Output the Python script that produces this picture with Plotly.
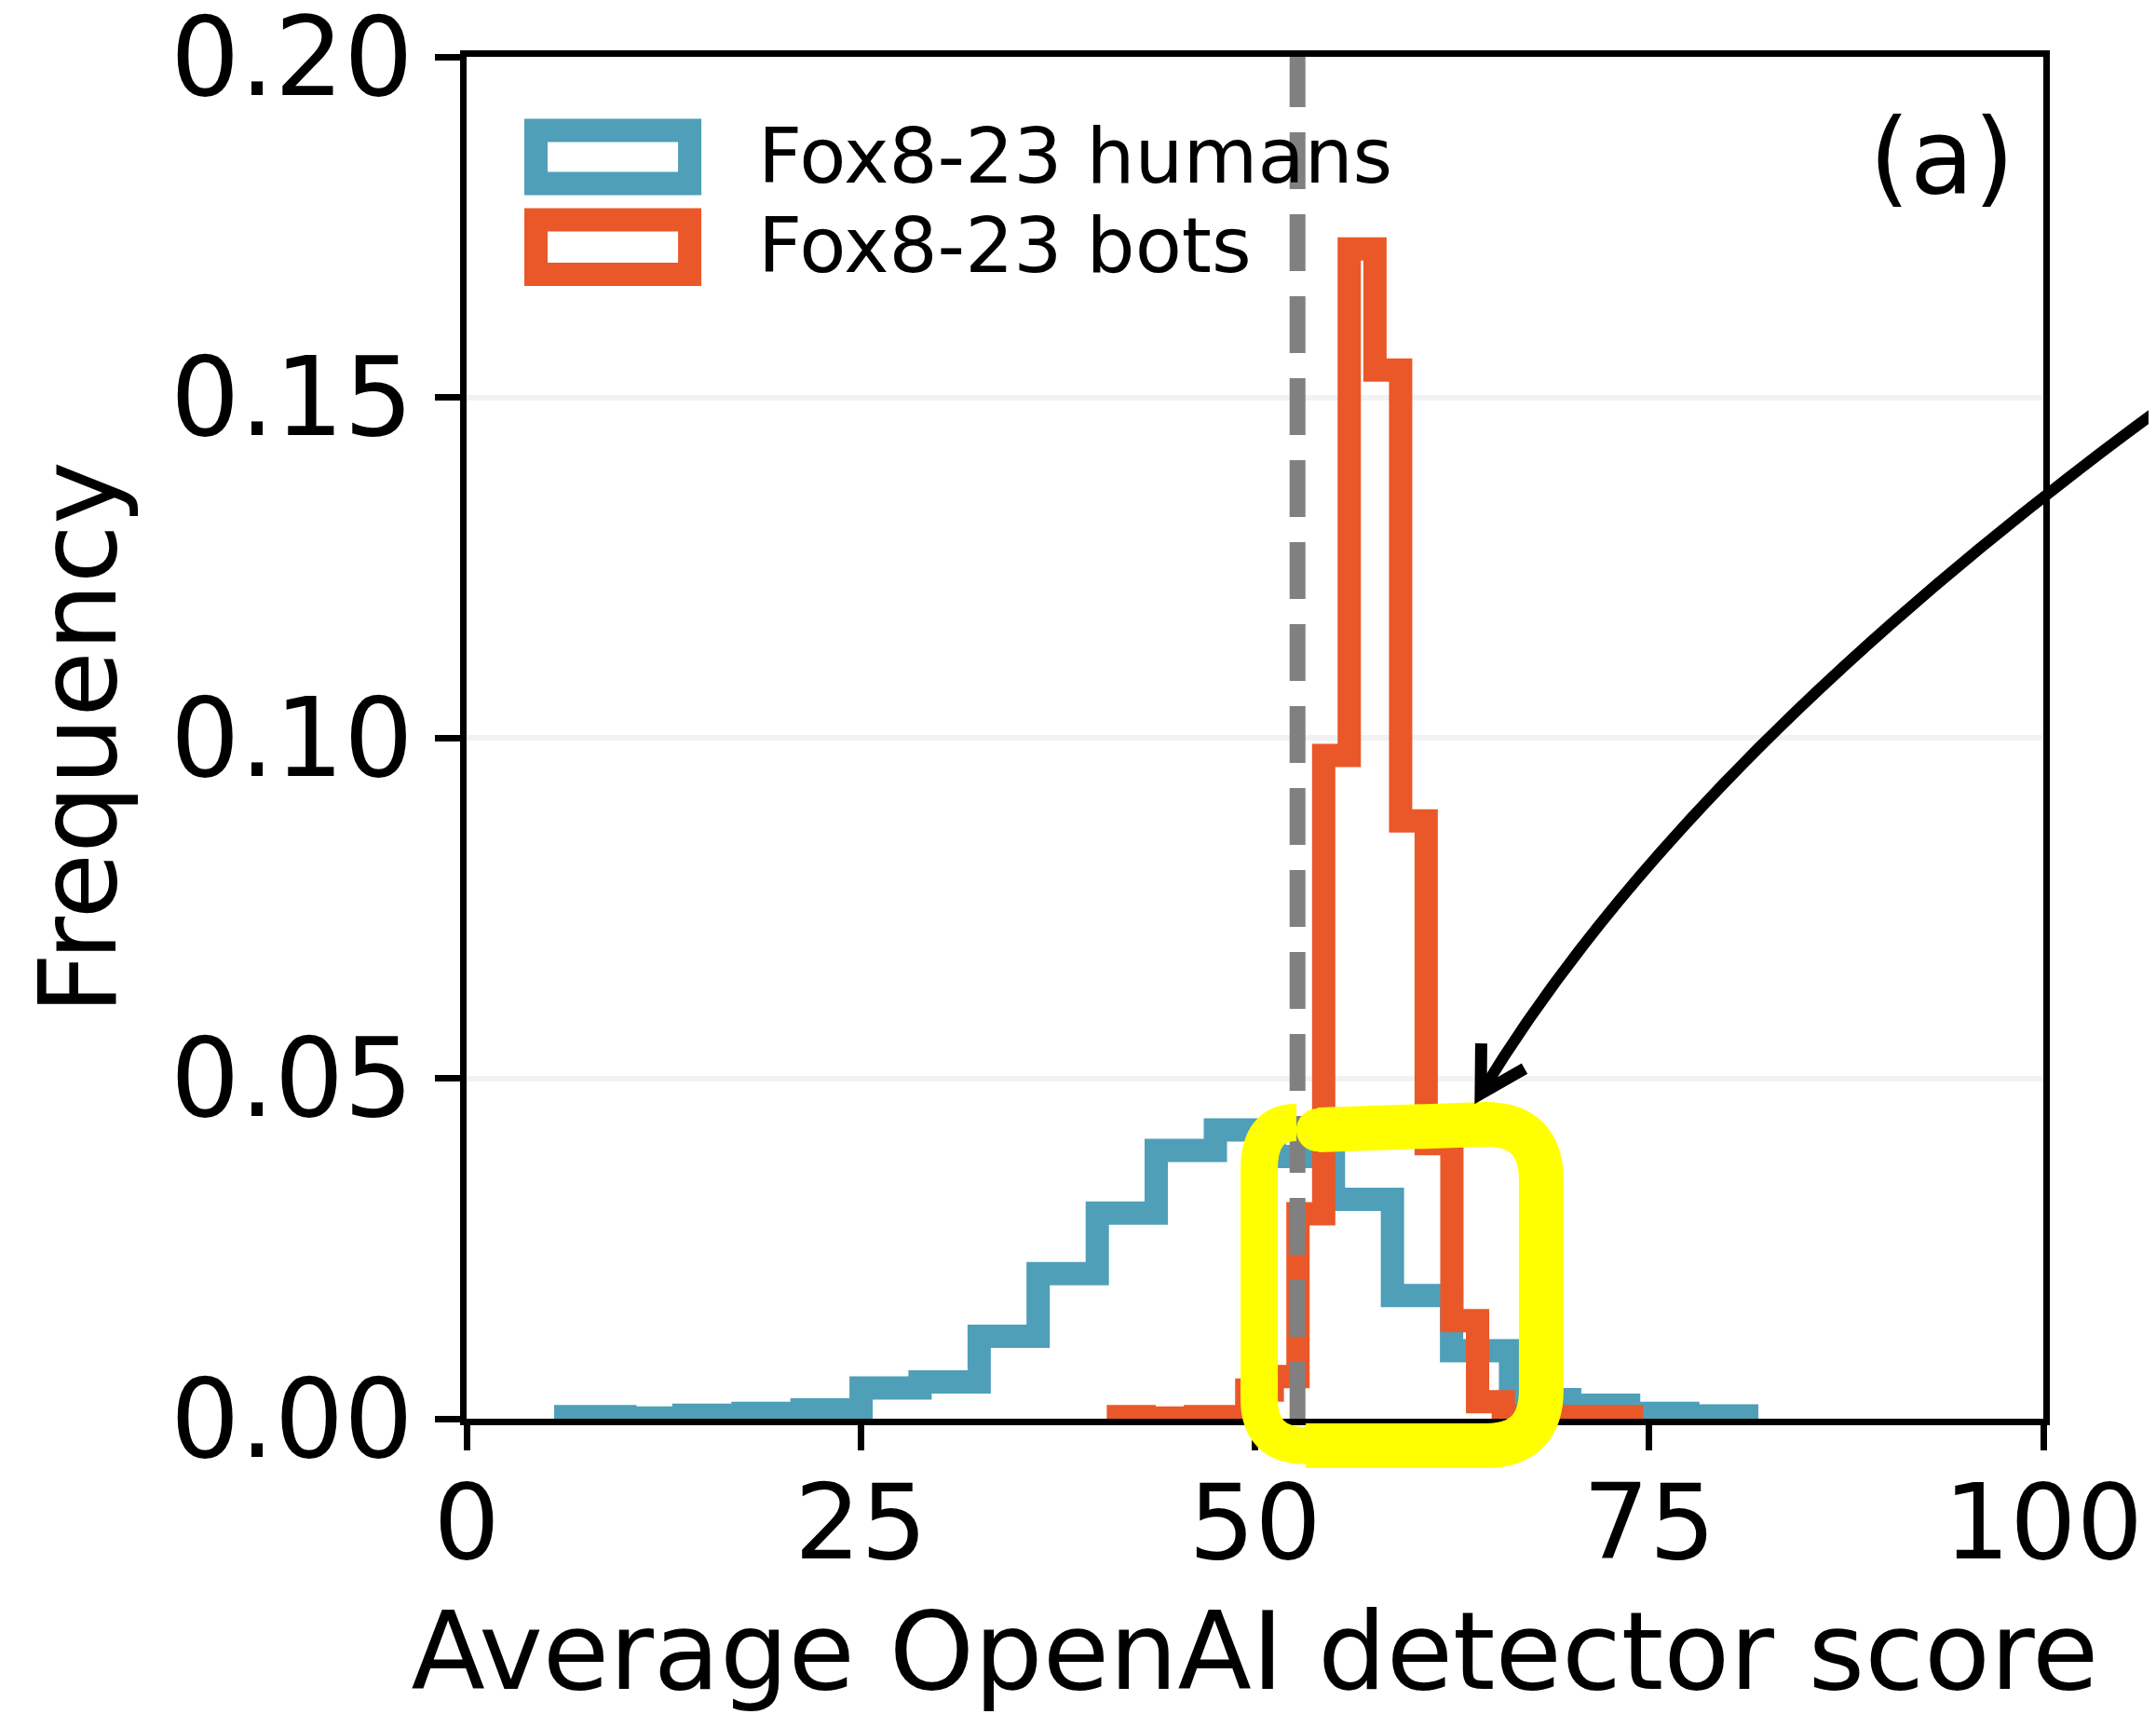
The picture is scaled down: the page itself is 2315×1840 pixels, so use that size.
import plotly.graph_objects as go

# ---- data ----
human_edges = [6.29, 10.04, 13.78, 17.53, 21.27, 25.02, 28.76, 32.51, 36.25, 40.00, 43.74,
               47.49, 51.23, 54.98, 58.72, 62.47, 66.21, 69.96, 73.70, 77.45, 81.19]
human_freq = [0.0003, 0.0001, 0.0005, 0.0008, 0.0013, 0.0045, 0.0054, 0.0121, 0.0213, 0.0302,
              0.0394, 0.0424, 0.0385, 0.0322, 0.0181, 0.0100, 0.0028, 0.0020, 0.0008, 0.0004]

bot_edges = [41.34, 42.97, 44.59, 46.22, 47.85, 49.48, 51.10, 52.73, 54.36, 55.98, 57.61,
             59.24, 60.86, 62.49, 64.12, 65.75, 67.37, 69.00, 70.63, 72.25, 73.88]
bot_freq = [0.0003, 0.0001, 0.0001, 0.0003, 0.0003, 0.0042, 0.0062, 0.0301, 0.0974, 0.1718,
            0.1540, 0.0878, 0.0404, 0.0144, 0.0025, 0.0003, 0.0003, 0.0003, 0.0003, 0.0003]

threshold = 52.7
series_names = ["Fox8-23 humans", "Fox8-23 bots"]
x_ticks = [0, 25, 50, 75, 100]
y_ticks = [0.0, 0.05, 0.10, 0.15, 0.20]
y_ticktext = ["0.00", "0.05", "0.10", "0.15", "0.20"]

BLUE = "#4F9FB8"
ORANGE = "#EA5829"
GRAY = "#808080"
YELLOW = "#FFFF00"
FONT = "DejaVu Sans"


def step_xy(edges, heights):
    xs = [edges[0]] + list(edges[:-1]) + [edges[-1]]
    ys = [0] + list(heights) + [0]
    return xs, ys


fig = go.Figure()
for name, edges, freq, col in [(series_names[0], human_edges, human_freq, BLUE),
                               (series_names[1], bot_edges, bot_freq, ORANGE)]:
    xs, ys = step_xy(edges, freq)
    fig.add_trace(go.Scatter(x=xs, y=ys, mode="lines", name=name,
                             line=dict(color=col, width=25, shape="hv"),
                             showlegend=False, hoverinfo="skip"))

# threshold dashed line
fig.add_trace(go.Scatter(x=[threshold, threshold], y=[0, 0.2], mode="lines",
                         line=dict(color=GRAY, width=17, dash="61px,27px"),
                         showlegend=False, hoverinfo="skip"))

shapes = []
# manual legend patches
for (y0, y1), col in [((0.9069, 0.9459), BLUE), ((0.8403, 0.8803), ORANGE)]:
    shapes.append(dict(type="rect", xref="paper", yref="paper", x0=0.0440, x1=0.1415,
                       y0=y0, y1=y1, line=dict(color=col, width=25), fillcolor="rgba(0,0,0,0)"))

# yellow hand-drawn highlight (overlay)
shapes.append(dict(type="path", xref="paper", yref="paper", layer="above",
                   path=("M 0.5399,0.2120 L 0.6462,0.2161 Q 0.6816,0.2161 0.6816,0.1751 "
                         "L 0.6816,0.0212 Q 0.6816,-0.0198 0.6462,-0.0198 L 0.5322,-0.0198"),
                   line=dict(color=YELLOW, width=48)))
shapes.append(dict(type="path", xref="paper", yref="paper", layer="above",
                   path=("M 0.5400,-0.0198 L 0.5322,-0.0198 Q 0.5027,-0.0198 0.5027,0.0144 "
                         "L 0.5027,0.1833 Q 0.5027,0.2175 0.5263,0.2175"),
                   line=dict(color=YELLOW, width=40)))
shapes.append(dict(type="circle", xref="paper", yref="paper", layer="above",
                   x0=0.5262, x1=0.5536, y0=0.1962, y1=0.2278,
                   fillcolor=YELLOW, line=dict(width=0)))
# black curved arrow (overlay)
shapes.append(dict(type="path", xref="paper", yref="paper", layer="above",
                   path="M 1.0744,0.7420 Q 0.7717,0.4849 0.6432,0.2387",
                   line=dict(color="black", width=12)))
shapes.append(dict(type="path", xref="paper", yref="paper", layer="above",
                   path="M 0.6435,0.2756 L 0.6432,0.2387 L 0.6710,0.2571",
                   line=dict(color="black", width=13)))

annotations = [
    dict(text=series_names[0], xref="paper", yref="paper", x=0.1835, y=0.9270,
         xanchor="left", yanchor="middle", showarrow=False,
         font=dict(family=FONT, size=82, color="black")),
    dict(text=series_names[1], xref="paper", yref="paper", x=0.1835, y=0.8613,
         xanchor="left", yanchor="middle", showarrow=False,
         font=dict(family=FONT, size=82, color="black")),
    dict(text="(a)", xref="paper", yref="paper", x=0.9830, y=0.9266,
         xanchor="right", yanchor="middle", showarrow=False,
         font=dict(family=FONT, size=112, color="black")),
]

fig.update_layout(
    width=2307, height=1832,
    margin=dict(l=493, r=121, t=53, b=317, autoexpand=False),
    paper_bgcolor="white", plot_bgcolor="white",
    shapes=shapes, annotations=annotations,
    font=dict(family=FONT, color="black"),
    showlegend=False,
)
fig.update_xaxes(
    range=[0, 100], tickvals=x_ticks, ticks="outside", ticklen=27, tickwidth=7,
    tickcolor="black", showline=True, linewidth=7, linecolor="black", mirror=True,
    showgrid=False, zeroline=False, tickfont=dict(family=FONT, size=112, color="black"),
    ticklabelstandoff=-18, ticklabeloverflow="allow",
    title=dict(text="Average OpenAI detector score", font=dict(family=FONT, size=116, color="black"),
               standoff=38),
    automargin=False,
)
fig.update_yaxes(
    range=[0, 0.2], tickvals=y_ticks, ticktext=y_ticktext, ticks="outside", ticklen=27,
    tickwidth=7, tickcolor="black", showline=True, linewidth=7, linecolor="black", mirror=True,
    showgrid=True, gridcolor="#F2F2F2", gridwidth=6, zeroline=False,
    tickfont=dict(family=FONT, size=117, color="black"), ticklabeloverflow="allow",
    title=dict(text="Frequency", font=dict(family=FONT, size=115, color="black"), standoff=22),
    automargin=False,
)

fig.write_html("out.html")
